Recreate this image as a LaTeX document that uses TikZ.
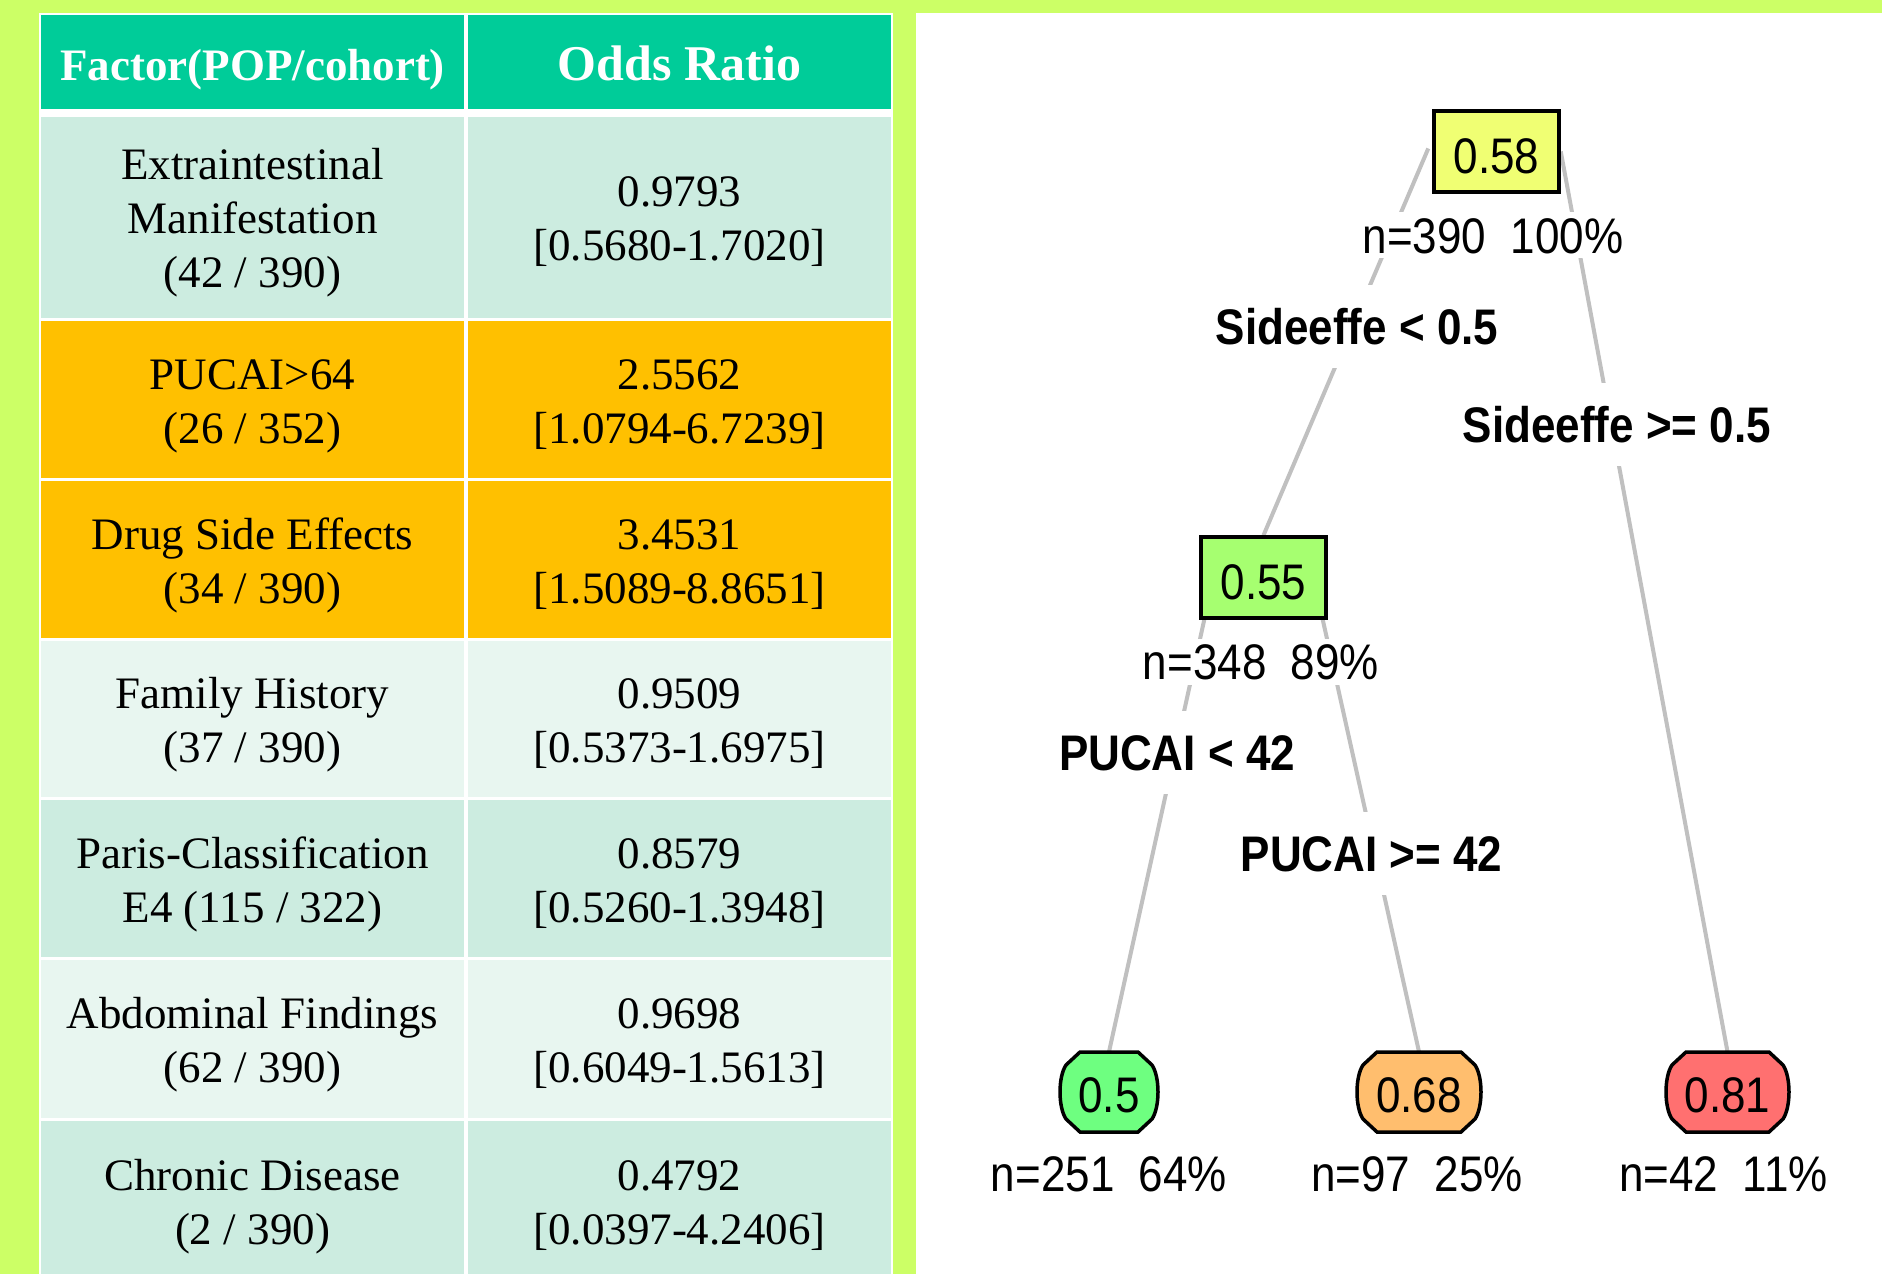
\documentclass[tikz,border=0pt]{standalone}
\usepackage{fontspec}
\setmainfont{Liberation Serif}
\newfontfamily\treefont[FakeStretch=0.88]{Liberation Sans}

\definecolor{bglime}{RGB}{204,255,102}
\definecolor{headgreen}{RGB}{0,204,153}
\definecolor{rowdark}{RGB}{204,236,224}
\definecolor{rowlight}{RGB}{232,246,240}
\definecolor{rowhigh}{RGB}{255,192,0}
\definecolor{edgegray}{RGB}{192,192,192}
\definecolor{nodeyellow}{RGB}{240,255,115}
\definecolor{nodegreen}{RGB}{166,255,112}
\definecolor{leafgreen}{RGB}{110,255,128}
\definecolor{leaforange}{RGB}{255,190,110}
\definecolor{leafred}{RGB}{255,112,112}

\pgfdeclarelayer{bottom}
\pgfdeclarelayer{edges}
\pgfsetlayers{bottom,edges,main}

% barrel-shaped leaf outline: centre x, centre y, half width, fill colour
\newcommand\leafshape[4]{%
  \begin{scope}[shift={(#1,#2)}]
    \filldraw[line width=3.5, draw=black, fill=#4]
      (-#3+21,-40) -- (#3-21,-40) -- (#3-7,-27)
      .. controls (#3+1,-15) and (#3+1,15) .. (#3-7,27)
      -- (#3-21,40) -- (-#3+21,40) -- (-#3+7,27)
      .. controls (-#3-1,15) and (-#3-1,-15) .. (-#3+7,-27) -- cycle;
  \end{scope}}

\begin{document}
\begin{tikzpicture}[x=1pt,y=-1pt,
  cellfill/.style={rectangle, inner sep=0, minimum width=423},
  celltext/.style={inner sep=0, align=center, font=\fontsize{45}{54}\selectfont},
  headtext/.style={inner sep=0, align=center, text=white},
  tbox/.style={rectangle, draw=black, line width=3.5, minimum width=125, minimum height=81,
    inner sep=0, text height=44, text depth=0, font=\treefont\fontsize{50}{60}\selectfont},
  leaftext/.style={rectangle, inner sep=0, minimum height=80, text height=40, text depth=0,
    font=\treefont\fontsize{50}{60}\selectfont},
  edge/.style={draw=edgegray, line width=4},
  nlab/.style={fill=white, inner xsep=2, inner ysep=0, text height=36, text depth=0,
    minimum height=46, font=\treefont\fontsize{50}{60}\selectfont},
  splitlab/.style={fill=white, inner xsep=2, inner ysep=0, text height=36, text depth=0,
    minimum height=83, font=\treefont\bfseries\fontsize{50}{60}\selectfont}]

\useasboundingbox (0,0) rectangle (1882,1274);

% page background, table backing and tree panel
\begin{pgfonlayer}{bottom}
  \fill[bglime] (0,0) rectangle (1882,1274);
  \fill[white] (39,13) rectangle (893,1274);
  \fill[white] (916,13) rectangle (1882,1274);
\end{pgfonlayer}

% ---------- table ----------
\node[cellfill, fill=headgreen, minimum height=94] (hA) at (252.5,62) {};
\node[cellfill, fill=headgreen, minimum height=94] (hB) at (679.5,62) {};
\node[headtext, font=\bfseries\fontsize{45}{54}\selectfont] (hAt) at ([yshift=-8pt]hA.center) {\strut Factor(POP/cohort)};
\node[headtext, font=\bfseries\fontsize{50}{54}\selectfont] (hBt) at ([yshift=-8pt]hB.center) {\strut Odds Ratio};

\node[cellfill, fill=rowdark, minimum height=201] (r1A) at (252.5,217.5) {};
\node[cellfill, fill=rowdark, minimum height=201] (r1B) at (679.5,217.5) {};
\node[celltext] (r1At) at ([yshift=-5pt]r1A.center) {\strut Extraintestinal\\\strut Manifestation\\\strut (42 / 390)};
\node[celltext] (r1Bt) at ([yshift=-5pt]r1B.center) {\strut 0.9793\\\strut [0.5680-1.7020]};

\node[cellfill, fill=rowhigh, minimum height=157] (r2A) at (252.5,399.5) {};
\node[cellfill, fill=rowhigh, minimum height=157] (r2B) at (679.5,399.5) {};
\node[celltext] (r2At) at ([yshift=-6pt]r2A.center) {\strut PUCAI>64\\\strut (26 / 352)};
\node[celltext] (r2Bt) at ([yshift=-6pt]r2B.center) {\strut 2.5562\\\strut [1.0794-6.7239]};

\node[cellfill, fill=rowhigh, minimum height=157] (r3A) at (252.5,559.5) {};
\node[cellfill, fill=rowhigh, minimum height=157] (r3B) at (679.5,559.5) {};
\node[celltext] (r3At) at ([yshift=-6pt]r3A.center) {\strut Drug Side Effects\\\strut (34 / 390)};
\node[celltext] (r3Bt) at ([yshift=-6pt]r3B.center) {\strut 3.4531\\\strut [1.5089-8.8651]};

\node[cellfill, fill=rowlight, minimum height=156] (r4A) at (252.5,719) {};
\node[cellfill, fill=rowlight, minimum height=156] (r4B) at (679.5,719) {};
\node[celltext] (r4At) at ([yshift=-6pt]r4A.center) {\strut Family History\\\strut (37 / 390)};
\node[celltext] (r4Bt) at ([yshift=-6pt]r4B.center) {\strut 0.9509\\\strut [0.5373-1.6975]};

\node[cellfill, fill=rowdark, minimum height=157] (r5A) at (252.5,878.5) {};
\node[cellfill, fill=rowdark, minimum height=157] (r5B) at (679.5,878.5) {};
\node[celltext] (r5At) at ([yshift=-6pt]r5A.center) {\strut Paris-Classification\\\strut E4 (115 / 322)};
\node[celltext] (r5Bt) at ([yshift=-6pt]r5B.center) {\strut 0.8579\\\strut [0.5260-1.3948]};

\node[cellfill, fill=rowlight, minimum height=158] (r6A) at (252.5,1039) {};
\node[cellfill, fill=rowlight, minimum height=158] (r6B) at (679.5,1039) {};
\node[celltext] (r6At) at ([yshift=-6pt]r6A.center) {\strut Abdominal Findings\\\strut (62 / 390)};
\node[celltext] (r6Bt) at ([yshift=-6pt]r6B.center) {\strut 0.9698\\\strut [0.6049-1.5613]};

\node[cellfill, fill=rowdark, minimum height=159] (r7A) at (252.5,1200.5) {};
\node[cellfill, fill=rowdark, minimum height=159] (r7B) at (679.5,1200.5) {};
\node[celltext] (r7At) at ([yshift=-6pt]r7A.center) {\strut Chronic Disease\\\strut (2 / 390)};
\node[celltext] (r7Bt) at ([yshift=-6pt]r7B.center) {\strut 0.4792\\\strut [0.0397-4.2406]};

% ---------- decision tree ----------
\node[tbox, fill=nodeyellow] (root) at (1496.5,151.5) {0.58};
\node[tbox, fill=nodegreen] (mid) at (1263.5,577.5) {0.55};

\leafshape{1109}{1092}{50}{leafgreen}
\leafshape{1419}{1092}{63}{leaforange}
\leafshape{1727.5}{1092}{62.5}{leafred}
\node[leaftext, minimum width=100] (la) at (1109,1092) {0.5};
\node[leaftext, minimum width=126] (lb) at (1419,1092) {0.68};
\node[leaftext, minimum width=125] (lc) at (1727.5,1092) {0.81};

\begin{pgfonlayer}{edges}
  \draw[edge] ([xshift=-4pt,yshift=3pt]root.west) -- (mid.north);
  \draw[edge] (root.east) -- (lc.north);
  \draw[edge] ([xshift=5pt]mid.south west) -- (la.north);
  \draw[edge] ([xshift=-5pt]mid.south east) -- (lb.north);
\end{pgfonlayer}

\node[nlab] (n1) at (1493,235) {n=390~~100\%};
\node[splitlab] (s1) at (1357,326.5) {Sideeffe < 0.5};
\node[splitlab] (s2) at (1617,424.5) {Sideeffe >= 0.5};
\node[nlab] (n2) at (1261,661.5) {n=348~~89\%};
\node[splitlab] (p1) at (1177,752.5) {PUCAI < 42};
\node[splitlab] (p2) at (1371.5,853.5) {PUCAI >= 42};
\node[nlab] (n3) at (1109,1173) {n=251~~64\%};
\node[nlab] (n4) at (1417,1173) {n=97~~25\%};
\node[nlab] (n5) at (1723.5,1173) {n=42~~11\%};

\end{tikzpicture}
\end{document}
